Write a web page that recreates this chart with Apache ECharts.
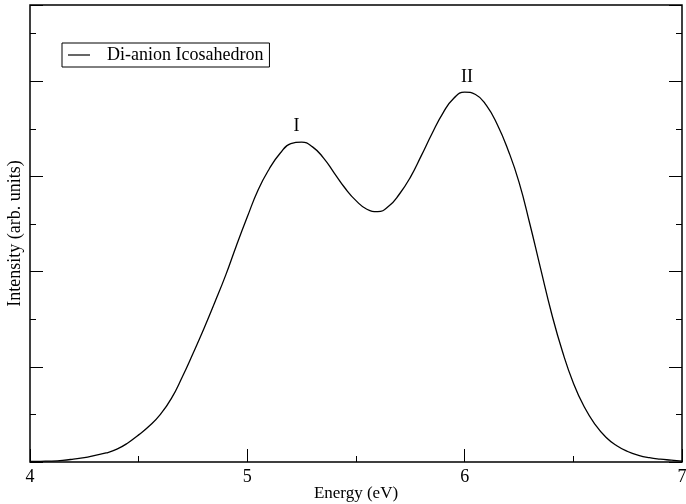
<!DOCTYPE html>
<html>
<head>
<meta charset="utf-8">
<script src="https://cdn.jsdelivr.net/npm/echarts@6/dist/echarts.min.js"></script>
<style>html,body{margin:0;padding:0;background:#fff}#c{width:686px;height:504px}</style>
</head>
<body>
<div id="c"></div>
<script>
var energy = [4.00,4.05,4.10,4.15,4.20,4.25,4.30,4.35,4.40,4.45,4.50,4.55,4.60,4.65,4.70,4.75,4.80,4.85,4.90,4.95,
  5.00,5.05,5.10,5.15,5.20,5.25,5.30,5.35,5.40,5.45,5.50,5.55,5.60,5.65,5.70,5.75,5.80,5.85,5.90,5.95,
  6.00,6.05,6.10,6.15,6.20,6.25,6.30,6.35,6.40,6.45,6.50,6.55,6.60,6.65,6.70,6.75,6.80,6.85,6.90,6.95,7.00];
var intensity = [0.01,0.015,0.02,0.035,0.06,0.09,0.14,0.19,0.27,0.40,0.57,0.76,1.00,1.33,1.78,2.28,2.80,3.35,3.92,4.55,
  5.15,5.72,6.15,6.48,6.69,6.72,6.62,6.39,6.07,5.75,5.49,5.31,5.26,5.37,5.63,5.98,6.43,6.90,7.33,7.64,
  7.77,7.72,7.49,7.09,6.55,5.88,5.00,4.05,3.12,2.32,1.66,1.16,0.79,0.52,0.34,0.22,0.14,0.09,0.06,0.04,0.02];
var xTicks = [4,5,6,7];
var seriesName = 'Di-anion Icosahedron';
var peakLabels = ['I','II'];
var peakEnergy = [5.226,6.011];
var peakIntensity = [6.73,7.77];

var serif = '"Liberation Serif","DejaVu Serif",serif';
var data = energy.map(function(e,i){return [e,intensity[i]];});

function yAx(pos, interval, len, extra){
  var a = {type:'value', position:pos, min:0, max:9.6, interval:interval,
    axisLine:{show:false}, splitLine:{show:false},
    axisTick:{show:true, inside:true, length:len, lineStyle:{color:'#000',width:1}},
    axisLabel:{show:false}};
  for (var k in (extra||{})) a[k]=extra[k];
  return a;
}

var chart = echarts.init(document.getElementById('c'), null, {renderer:'canvas'});
chart.setOption({
  animation:false,
  backgroundColor:'#fff',
  grid:{left:30,right:4,top:5,bottom:42,containLabel:false,outerBoundsMode:'none',
    show:true,borderColor:'#000',borderWidth:1.5,backgroundColor:'transparent'},
  legend:{
    left:62, top:43, data:[seriesName], icon:'rect', itemWidth:22, itemHeight:1.2,
    borderColor:'#000', borderWidth:1, padding:[3,6,3,6],
    textStyle:{fontFamily:serif,fontSize:18,color:'#000',padding:[0,0,0,12]}
  },
  xAxis:[{
    type:'value', min:4, max:7, interval:1, position:'bottom',
    axisLine:{show:false}, splitLine:{show:false},
    axisTick:{show:true,inside:true,length:13,lineStyle:{color:'#000',width:1}},
    minorTick:{show:true,splitNumber:2,length:6,lineStyle:{color:'#000',width:1}},
    minorSplitLine:{show:false},
    axisLabel:{fontFamily:serif,fontSize:18,color:'#000',margin:6,
      formatter:function(v){return xTicks.indexOf(v)>=0?String(v):'';}},
    name:'Energy (eV)', nameLocation:'middle', nameGap:23, nameMoveOverlap:false,
    nameTextStyle:{fontFamily:serif,fontSize:17,color:'#000'}
  }],
  yAxis:[
    yAx('left',2,13,{name:'Intensity (arb. units)',nameLocation:'middle',nameGap:6,nameMoveOverlap:false,
      nameTextStyle:{fontFamily:serif,fontSize:18,color:'#000'}}),
    yAx('left',1,6),
    yAx('right',2,13),
    yAx('right',1,6)
  ],
  series:[{
    name:seriesName, type:'line', data:data, xAxisIndex:0, yAxisIndex:0,
    smooth:true, symbol:'none', showSymbol:false,
    lineStyle:{color:'#000',width:1.3}, itemStyle:{color:'#000'},
    markPoint:{
      symbol:'circle', symbolSize:0,
      label:{show:true,position:'top',distance:6,fontFamily:serif,fontSize:18,color:'#000',
        formatter:function(p){return p.name;}},
      data:peakLabels.map(function(t,i){return {name:t,coord:[peakEnergy[i],peakIntensity[i]]};})
    }
  }]
});
</script>
</body>
</html>
